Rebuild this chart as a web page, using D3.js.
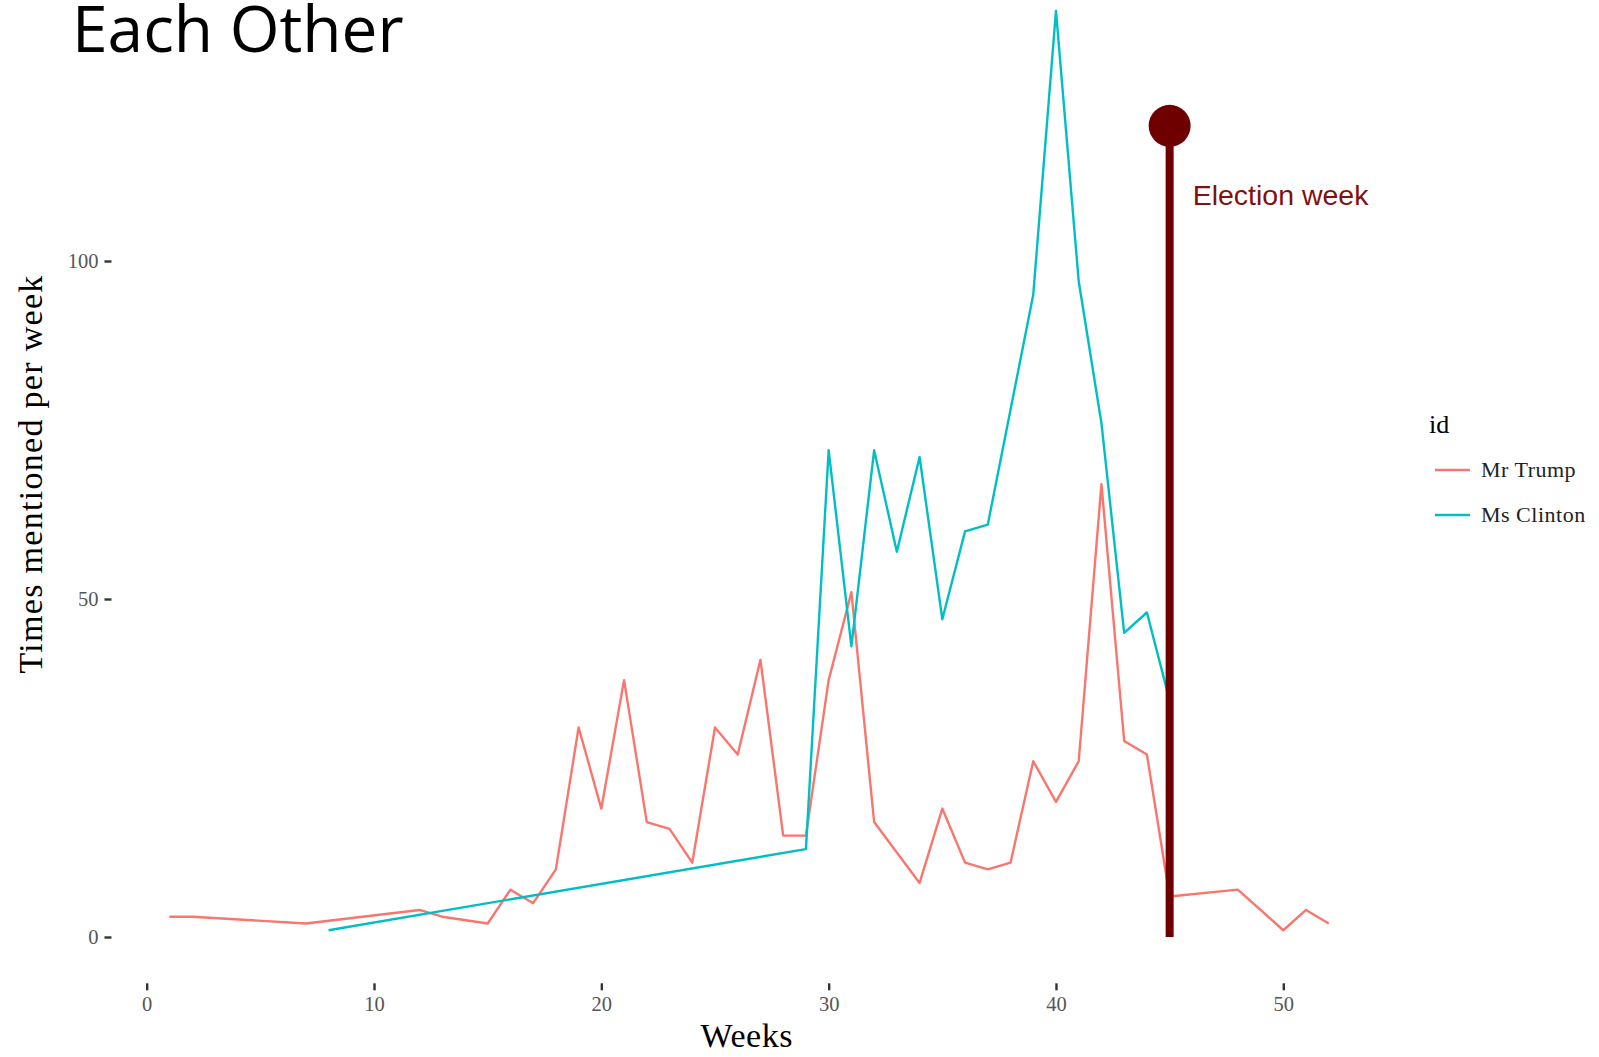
<!DOCTYPE html>
<html>
<head>
<meta charset="utf-8">
<script src="https://cdn.jsdelivr.net/npm/d3@7"></script>
<style>
  html, body { margin: 0; padding: 0; background: #ffffff; }
  svg { display: block; }
</style>
</head>
<body>
<svg id="chart" width="1599" height="1057"></svg>
<script>
// ---- data ----
const trumpWeeks  = [1, 2, 7, 12, 13, 15, 16, 17, 18, 19, 20, 21, 22, 23, 24, 25, 26, 27, 28, 29, 30, 31, 32, 33, 34, 35, 36, 37, 38, 39, 40, 41, 42, 43, 44, 45, 48, 50, 51, 52];
const trumpValues = [3, 3, 2, 4, 3, 2, 7, 5, 10, 31, 19, 38, 17, 16, 11, 31, 27, 41, 15, 15, 38, 51, 17, 12.5, 8, 19, 11, 10, 11, 26, 20, 26, 67, 29, 27, 6, 7, 1, 4, 2];
const clintonWeeks  = [8, 29, 30, 31, 32, 33, 34, 35, 36, 37, 38, 39, 40, 41, 42, 43, 44, 45];
const clintonValues = [1, 13, 72, 43, 72, 57, 71, 47, 60, 61, 78, 95, 137, 97, 76, 45, 48, 35];
const seriesNames  = ["Mr Trump", "Ms Clinton"];
const seriesColors = ["#F8766D", "#00BFC4"];
const xTicks = [0, 10, 20, 30, 40, 50];
const yTicks = [0, 50, 100];
const electionWeek = 45;
const electionTop = 120;
const electionLabel = "Election week";
const titleText = "Each Other";
const xTitle = "Weeks";
const yTitle = "Times mentioned per week";
const legendTitle = "id";

// ---- scales ----
const x = d3.scaleLinear().domain([0, 50]).range([146.7, 1283.3]);
const y = d3.scaleLinear().domain([0, 100]).range([937, 261]);
const xMinData = 1, xMaxData = 52, yMinData = 0, yMaxData = 137;
const panelLeft = x(xMinData - 0.05 * (xMaxData - xMinData));
const panelBottom = y(yMinData - 0.05 * (yMaxData - yMinData));

const svg = d3.select("#chart");

// title (last visible line)
svg.append("text")
  .attr("x", 72).attr("y", 52)
  .attr("font-family", "'Open Sans', sans-serif")
  .attr("font-size", 64)
  .attr("fill", "#000")
  .text(titleText);

// ---- axes ----
const yAxis = d3.axisLeft(y).tickValues(yTicks).tickSize(7).tickPadding(6).tickFormat(d3.format("d"));
const gy = svg.append("g").attr("transform", `translate(${panelLeft},0)`).call(yAxis);
gy.select(".domain").remove();
gy.selectAll(".tick line").attr("stroke", "#333").attr("stroke-width", 2.4);
gy.selectAll(".tick text")
  .attr("font-family", "'Liberation Serif', 'Times New Roman', serif")
  .attr("font-size", 20.5).attr("fill", "#555");

const xAxis = d3.axisBottom(x).tickValues(xTicks).tickSize(7).tickPadding(6).tickFormat(d3.format("d"));
const gx = svg.append("g").attr("transform", `translate(0,${panelBottom})`).call(xAxis);
gx.select(".domain").remove();
gx.selectAll(".tick line").attr("stroke", "#333").attr("stroke-width", 2.4);
gx.selectAll(".tick text")
  .attr("font-family", "'Liberation Serif', 'Times New Roman', serif")
  .attr("font-size", 20.5).attr("fill", "#555");

// axis titles
svg.append("text")
  .attr("x", x(26.4)).attr("y", 1047)
  .attr("text-anchor", "middle")
  .attr("font-family", "'Liberation Serif', 'Times New Roman', serif")
  .attr("font-size", 34).attr("letter-spacing", 0.6).attr("fill", "#000")
  .text(xTitle);

svg.append("text")
  .attr("transform", `translate(42,${474}) rotate(-90)`)
  .attr("text-anchor", "middle")
  .attr("font-family", "'Liberation Serif', 'Times New Roman', serif")
  .attr("font-size", 34).attr("letter-spacing", 1.3).attr("fill", "#000")
  .text(yTitle);

// ---- lines ----
const line = d3.line().x(d => x(d[0])).y(d => y(d[1]));
const trumpData = trumpWeeks.map((w, i) => [w, trumpValues[i]]);
const clintonData = clintonWeeks.map((w, i) => [w, clintonValues[i]]);
[trumpData, clintonData].forEach((data, i) => {
  svg.append("path")
    .datum(data)
    .attr("d", line)
    .attr("fill", "none")
    .attr("stroke", seriesColors[i])
    .attr("stroke-width", 2.4)
    .attr("stroke-linejoin", "round");
});

// ---- election marker ----
svg.append("line")
  .attr("x1", x(electionWeek)).attr("x2", x(electionWeek))
  .attr("y1", y(0)).attr("y2", y(electionTop))
  .attr("stroke", "#6e0000").attr("stroke-width", 8);
svg.append("circle")
  .attr("cx", x(electionWeek)).attr("cy", y(electionTop))
  .attr("r", 21).attr("fill", "#6e0000");
svg.append("text")
  .attr("x", x(electionWeek) + 23).attr("y", 205)
  .attr("font-family", "'Liberation Sans', Arial, sans-serif")
  .attr("font-size", 28.5).attr("fill", "#821010")
  .text(electionLabel);

// ---- legend ----
const lg = svg.append("g");
lg.append("text")
  .attr("x", 1429).attr("y", 433)
  .attr("font-family", "'Liberation Serif', 'Times New Roman', serif")
  .attr("font-size", 26).attr("fill", "#000")
  .text(legendTitle);
seriesNames.forEach((name, i) => {
  const cy = 470 + i * 45;
  lg.append("line")
    .attr("x1", 1435).attr("x2", 1470)
    .attr("y1", cy).attr("y2", cy)
    .attr("stroke", seriesColors[i]).attr("stroke-width", 2.5);
  lg.append("text")
    .attr("x", 1481).attr("y", cy + 7)
    .attr("font-family", "'Liberation Serif', 'Times New Roman', serif")
    .attr("font-size", 22).attr("letter-spacing", 0.5).attr("fill", "#222")
    .text(name);
});
</script>
</body>
</html>
